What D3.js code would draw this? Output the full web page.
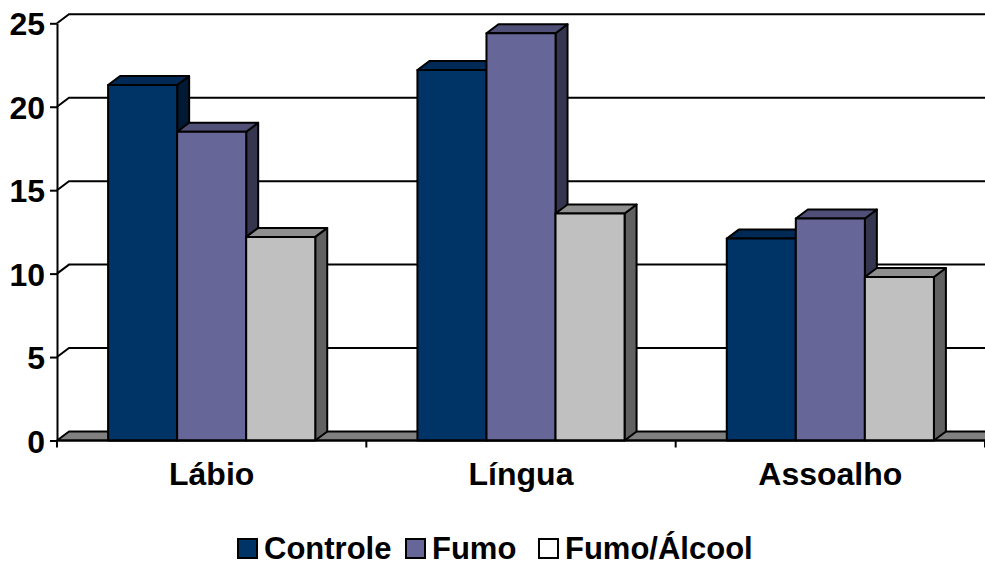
<!DOCTYPE html>
<html>
<head>
<meta charset="utf-8">
<script src="https://cdn.jsdelivr.net/npm/d3@7"></script>
<style>
  html, body { margin: 0; padding: 0; background: #fff; }
  svg { display: block; }
  text { font-family: "Liberation Sans", Arial, sans-serif; font-weight: bold; fill: #000; }
</style>
</head>
<body>
<svg id="chart" width="985" height="566"></svg>
<script>
// Categories, series and values
const categories = ["Lábio", "Língua", "Assoalho"];
const seriesNames = ["Controle", "Fumo", "Fumo/Álcool"];
const controle   = [21.3, 22.2, 12.1];
const fumo       = [18.5, 24.4, 13.3];
const fumoAlcool = [12.2, 13.6, 9.8];
const yTicks = [0, 5, 10, 15, 20, 25];

const seriesValues = [controle, fumo, fumoAlcool];
const palette = {
  "Controle":    { front: "#003366", top: "#002a55", side: "#001a33" },
  "Fumo":        { front: "#666699", top: "#4f4f77", side: "#35354f" },
  "Fumo/Álcool": { front: "#c0c0c0", top: "#8f8f8f", side: "#616161" }
};
const legendFill = { "Controle": "#003366", "Fumo": "#666699", "Fumo/Álcool": "#ffffff" };

const svg = d3.select("#chart");
const DX = 12, DY = 9;          // depth of the 3D projection
const left = 57, right = 985;
const FONT = 32;

const y = d3.scaleLinear().domain([0, 25]).range([440.5, 23.3]);
const x = d3.scaleBand().domain(categories).range([left, right]);
const xs = d3.scaleBand().domain(seriesNames).range([0, x.bandwidth()])
  .paddingInner(0).paddingOuter(0.74);

// Back wall gridlines with their diagonal run-in from the axis
const grid = svg.append("g");
yTicks.forEach(t => {
  if (t === 0) return;
  grid.append("path")
    .attr("d", `M${left},${y(t)} L${left + DX},${y(t) - DY} L${right + DX},${y(t) - DY}`)
    .attr("fill", "none").attr("stroke", "#000").attr("stroke-width", 2);
});

// Floor
svg.append("path")
  .attr("d", `M${left},${y(0)} L${left + DX},${y(0) - DY} L${right + DX},${y(0) - DY} L${right},${y(0)} Z`)
  .attr("fill", "#808080").attr("stroke", "#000").attr("stroke-width", 2)
  .attr("stroke-linejoin", "round");

// Bars, drawn left to right so nearer faces overlap the side faces
const bars = svg.append("g");
categories.forEach((cat, ci) => {
  seriesNames.forEach((s, si) => {
    const v = seriesValues[si][ci];
    const x0 = x(cat) + xs(s), x1 = x0 + xs.bandwidth();
    const yt = y(v), yb = y(0);
    const c = palette[s];
    const g = bars.append("g").attr("stroke", "#000").attr("stroke-width", 2)
      .attr("stroke-linejoin", "round");
    g.append("path")
      .attr("d", `M${x1},${yb} L${x1 + DX},${yb - DY} L${x1 + DX},${yt - DY} L${x1},${yt} Z`)
      .attr("fill", c.side);
    g.append("path")
      .attr("d", `M${x0},${yt} L${x0 + DX},${yt - DY} L${x1 + DX},${yt - DY} L${x1},${yt} Z`)
      .attr("fill", c.top);
    g.append("rect")
      .attr("x", x0).attr("y", yt).attr("width", x1 - x0).attr("height", yb - yt)
      .attr("fill", c.front);
  });
});

// Value axis
const yAxis = svg.append("g")
  .attr("transform", `translate(${left},0)`)
  .call(d3.axisLeft(y).tickValues(yTicks).tickSize(7).tickSizeOuter(0).tickPadding(5));
yAxis.select(".domain").attr("stroke", "#000").attr("stroke-width", 2);
yAxis.selectAll(".tick line").attr("stroke", "#000").attr("stroke-width", 2);
yAxis.selectAll(".tick text")
  .attr("font-size", FONT).attr("font-family", "Liberation Sans, Arial, sans-serif")
  .attr("font-weight", "bold").attr("fill", "#000").attr("dy", "0.36em");

// Category axis: front floor edge, boundary ticks and centred labels
svg.append("line")
  .attr("x1", left).attr("x2", right).attr("y1", y(0)).attr("y2", y(0))
  .attr("stroke", "#000").attr("stroke-width", 2);
const bounds = categories.map(c => x(c)).concat([x(categories[categories.length - 1]) + x.bandwidth()]);
svg.append("g").selectAll("line").data(bounds).join("line")
  .attr("x1", d => d).attr("x2", d => d)
  .attr("y1", y(0)).attr("y2", y(0) + 7)
  .attr("stroke", "#000").attr("stroke-width", 2);
svg.append("g").selectAll("text").data(categories).join("text")
  .attr("x", d => x(d) + x.bandwidth() / 2).attr("y", 485)
  .attr("text-anchor", "middle").attr("font-size", FONT)
  .text(d => d);

// Legend
const legend = svg.append("g");
const legendX = [238, 406, 539];
seriesNames.forEach((s, i) => {
  const g = legend.append("g").attr("transform", `translate(${legendX[i]},539)`);
  g.append("rect").attr("width", 19).attr("height", 19)
    .attr("fill", legendFill[s]).attr("stroke", "#000").attr("stroke-width", 2);
  g.append("text").attr("x", 26).attr("y", 20).attr("font-size", 31).text(s);
});
</script>
</body>
</html>
